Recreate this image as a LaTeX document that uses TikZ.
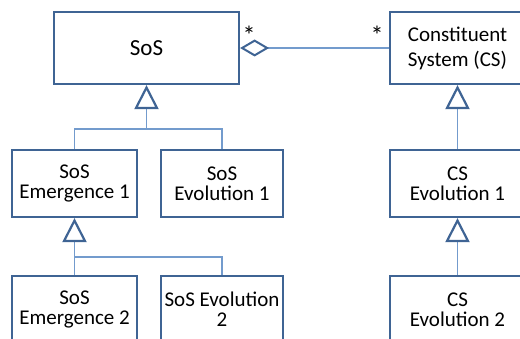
\documentclass[tikz,border=0pt]{standalone}
\usepackage{fontspec}
\setmainfont{Carlito}
\usetikzlibrary{arrows.meta}
\definecolor{bdr}{HTML}{3F6494}
\definecolor{lnk}{HTML}{739BCD}
\begin{document}
\begin{tikzpicture}[x=1pt,y=-1pt,
  cls/.style={draw=bdr, line width=2.2pt, fill=white, align=center,
    inner sep=0pt, font=\fontsize{21}{20}\selectfont},
  gen/.style={draw=lnk, line width=1.3pt,
    -{Triangle[open,length=24pt,width=24pt,line width=2.2pt,color=bdr,fill=white]}},
  plain/.style={draw=lnk, line width=1.3pt},
  agg/.style={draw=lnk, line width=1.3pt,
    -{Diamond[open,length=29pt,width=17pt,line width=2pt,color=bdr,fill=white]}},
  mult/.style={inner sep=0pt, font=\fontsize{26}{28}\selectfont}]
\useasboundingbox (0,0) rectangle (520,339);

% classes
\node[cls, minimum width=185pt, minimum height=72pt, font=\fontsize{23}{27}\selectfont]
  (sos) at (146.5,48) {SoS};
\node[cls, minimum width=135pt, minimum height=72pt, font=\fontsize{21}{25}\selectfont]
  (cs) at (457.5,48) {Constituent\\System (CS)};
\node[cls, minimum width=125pt, minimum height=67pt] (em1) at (74.5,183.5)
  {SoS\\Emergence 1};
\node[cls, minimum width=122pt, minimum height=67pt] (ev1) at (222,183.5)
  {SoS\\Evolution 1};
\node[cls, minimum width=135pt, minimum height=67pt] (cse1) at (457.5,183.5)
  {CS\\Evolution 1};
\node[cls, minimum width=125pt, minimum height=67pt] (em2) at (74.5,309.5)
  {SoS\\Emergence 2};
\node[cls, minimum width=122pt, minimum height=67pt] (ev2) at (222,309.5)
  {SoS Evolution\\2};
\node[cls, minimum width=135pt, minimum height=67pt] (cse2) at (457.5,309.5)
  {CS\\Evolution 2};

% generalisation forks
\coordinate (j1) at (146.5,129);
\coordinate (j2) at (74.5,257);
\draw[gen] (em1.north) |- (j1) -- (sos.south);
\draw[plain] (ev1.north) |- (j1);
\draw[gen] (em2.north) |- (j2) -- (em1.south);
\draw[plain] (ev2.north) |- (j2);
\draw[gen] (cse1.north) -- (cs.south);
\draw[gen] (cse2.north) -- (cse1.south);

% aggregation
\draw[agg] (cs.west) -- (sos.east);
\node[mult] (m1) at (249,35) {*};
\node[mult] (m2) at (377,35) {*};
\end{tikzpicture}
\end{document}
